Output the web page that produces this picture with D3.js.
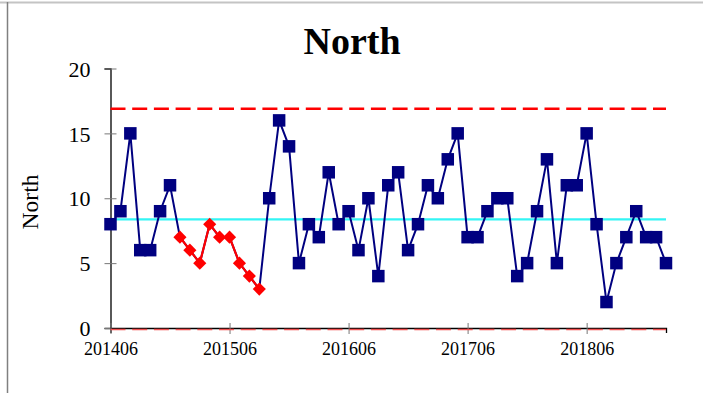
<!DOCTYPE html>
<html>
<head>
<meta charset="utf-8">
<script src="https://cdn.jsdelivr.net/npm/d3@7"></script>
<style>
  html, body { margin: 0; padding: 0; background: #fff; }
  svg { display: block; }
</style>
</head>
<body>
<svg id="chart" width="703" height="393"></svg>
<script>
// ---- data ----
const periods = [
  "201406","201407","201408","201409","201410","201411","201412",
  "201501","201502","201503","201504","201505","201506","201507","201508","201509","201510","201511","201512",
  "201601","201602","201603","201604","201605","201606","201607","201608","201609","201610","201611","201612",
  "201701","201702","201703","201704","201705","201706","201707","201708","201709","201710","201711","201712",
  "201801","201802","201803","201804","201805","201806","201807","201808","201809","201810","201811","201812",
  "201901","201902"
];
const values = [
  8, 9, 15, 6, 6, 9, 11,
  7, 6, 5, 8, 7, 7, 5, 4, 3, 10, 16, 14,
  5, 8, 7, 12, 8, 9, 6, 10, 4, 11, 12, 6,
  8, 11, 10, 13, 15, 7, 7, 9, 10, 10, 4, 5,
  9, 13, 5, 11, 11, 15, 8, 2, 5, 7, 9, 7,
  7, 5
];
// periods flagged as a run (drawn red)
const flaggedPeriods = ["201501","201502","201503","201504","201505","201506","201507","201508","201509"];
const meanValue = 8.37;
const upperLimit = 16.9;
const lowerLimit = 0;
const yTicks = [0, 5, 10, 15, 20];
const xTickLabels = ["201406","201506","201606","201706","201806"];
const title = "North";
const yLabel = "North";

// ---- drawing ----
const svg = d3.select("#chart");
const font = "'Liberation Serif', 'Times New Roman', serif";

// frame lines
svg.append("line").attr("x1", 0).attr("x2", 703).attr("y1", 2.5).attr("y2", 2.5)
  .attr("stroke", "#c4c4c4").attr("stroke-width", 2);
svg.append("line").attr("x1", 7.5).attr("x2", 7.5).attr("y1", 2).attr("y2", 393)
  .attr("stroke", "#808080").attr("stroke-width", 1.5);

const x = d3.scalePoint().domain(periods).range([110.5, 666]);
const y = d3.scaleLinear().domain([0, 20]).range([328, 68.5]);

const data = periods.map((p, i) => ({ p, v: values[i], flag: flaggedPeriods.includes(p) }));

// title
svg.append("text").attr("x", 352).attr("y", 54).attr("text-anchor", "middle")
  .attr("font-family", font).attr("font-weight", "bold").attr("font-size", 38)
  .text(title);

// y label
svg.append("text").attr("transform", "translate(38,202) rotate(-90)")
  .attr("text-anchor", "middle").attr("font-family", font).attr("font-size", 23.5)
  .text(yLabel);

// y axis
const yAxis = svg.append("g").attr("transform", "translate(110.5,0)")
  .call(d3.axisLeft(y).tickValues(yTicks).tickSizeOuter(0).tickSize(6).tickPadding(14));
yAxis.select(".domain").attr("stroke", "#000").attr("stroke-width", 1.3);
yAxis.selectAll(".tick line").attr("x2", 6).attr("x1", -6).attr("stroke", "#777");
yAxis.selectAll(".tick text").attr("font-family", font).attr("font-size", 22).attr("fill", "#000")
  .attr("x", -20).attr("dy", "0.35em");

// x axis
const xAxis = svg.append("g").attr("transform", "translate(0,328)")
  .call(d3.axisBottom(x).tickValues(xTickLabels).tickSizeOuter(0).tickSize(5));
xAxis.select(".domain").attr("stroke", "#000").attr("stroke-width", 1.3);
xAxis.selectAll(".tick line").attr("y1", -5).attr("y2", 6).attr("stroke", "#777");
xAxis.selectAll(".tick text").attr("font-family", font).attr("font-size", 18).attr("fill", "#000")
  .attr("y", 14).attr("dy", "0.71em");

// control lines
const xr = x.range();
svg.append("line").attr("x1", xr[0]).attr("x2", xr[1]).attr("y1", y(upperLimit)).attr("y2", y(upperLimit))
  .attr("stroke", "#ff0000").attr("stroke-width", 2.5).attr("stroke-dasharray", "15,6.7");
svg.append("line").attr("x1", xr[0]).attr("x2", xr[1]).attr("y1", y(lowerLimit) + 1.5).attr("y2", y(lowerLimit) + 1.5)
  .attr("stroke", "#f05050").attr("stroke-width", 1.5).attr("stroke-dasharray", "15,6.7");
svg.append("line").attr("x1", xr[0]).attr("x2", xr[1]).attr("y1", y(meanValue)).attr("y2", y(meanValue))
  .attr("stroke", "#33f5f5").attr("stroke-width", 2.2);

// series line
const line = d3.line().x(d => x(d.p)).y(d => y(d.v));
svg.append("path").datum(data).attr("d", line)
  .attr("fill", "none").attr("stroke", "#000080").attr("stroke-width", 2);
svg.append("path").datum(data.filter(d => d.flag)).attr("d", line)
  .attr("fill", "none").attr("stroke", "#ff0000").attr("stroke-width", 2.2);

// markers
const s = 12.5;
svg.selectAll("rect.pt").data(data.filter(d => !d.flag)).enter().append("rect")
  .attr("class", "pt")
  .attr("x", d => x(d.p) - s / 2).attr("y", d => y(d.v) - s / 2)
  .attr("width", s).attr("height", s).attr("fill", "#000080");
const dsym = d3.symbol().type(d3.symbolDiamond2).size(110);
svg.selectAll("path.dm").data(data.filter(d => d.flag)).enter().append("path")
  .attr("class", "dm")
  .attr("transform", d => `translate(${x(d.p)},${y(d.v)})`)
  .attr("d", dsym).attr("fill", "#ff0000");
</script>
</body>
</html>
